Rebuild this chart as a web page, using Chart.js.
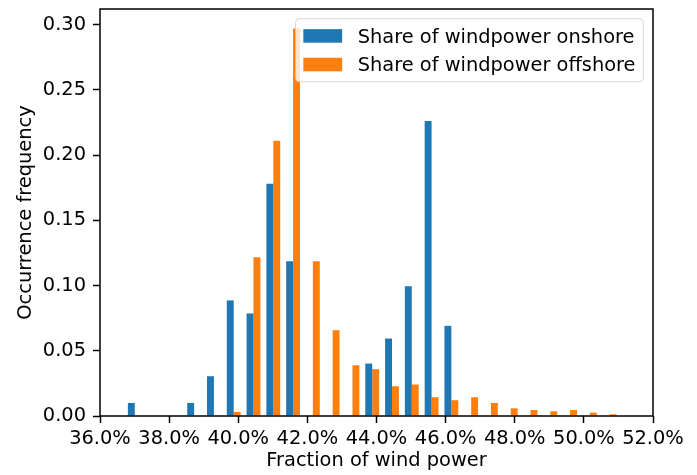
<!DOCTYPE html>
<html>
<head>
<meta charset="utf-8">
<style>
  html, body { margin: 0; padding: 0; background: #fff; }
  #wrap { width: 697px; height: 475px; }
</style>
<script src="https://cdn.jsdelivr.net/npm/chart.js@4.4.1/dist/chart.umd.min.js"></script>
</head>
<body>
<div id="wrap"><canvas id="chart" width="697" height="475"></canvas></div>
<script>
// Histogram bin centres (fraction of wind power, %)
const binCenters = [37.006, 37.579, 38.151, 38.724, 39.296, 39.869, 40.441, 41.014, 41.586,
                    42.159, 42.731, 43.304, 43.876, 44.449, 45.021, 45.594, 46.166, 46.739,
                    47.311, 47.884, 48.456, 49.029, 49.601, 50.174, 50.746];

// Occurrence frequency per bin
const onshore = [0.0100, 0, 0, 0.0100, 0.0305, 0.0886, 0.0786, 0.1780, 0.1186, 0, 0, 0,
                 0.0402, 0.0594, 0.0994, 0.2261, 0.0691, 0, 0, 0, 0, 0, 0, 0, 0];
const offshore = [0, 0, 0, 0, 0, 0.0031, 0.1217, 0.2110, 0.2970, 0.1186, 0.0658, 0.0389,
                  0.0359, 0.0228, 0.0241, 0.0144, 0.0121, 0.0144, 0.0100, 0.0059, 0.0046,
                  0.0036, 0.0046, 0.0026, 0.0013];

const seriesNames = ['Share of windpower onshore', 'Share of windpower offshore'];
const seriesColors = ['#1f77b4', '#ff7f0e'];

// Axis ticks
const xTickValues = [36, 38, 40, 42, 44, 46, 48, 50, 52];
const yTickValues = [0, 0.05, 0.10, 0.15, 0.20, 0.25, 0.30];

const FS = 19.4;
const FONT_FAMILY = '"DejaVu Sans", sans-serif';
const font = { family: FONT_FAMILY, size: FS, lineHeight: 1.2 };

// Frame on all four sides plus an in-axes legend drawn over the bars
const frameAndLegend = {
  id: 'frameAndLegend',
  afterDatasetsDraw(chart) {
    const { ctx, chartArea: a } = chart;
    ctx.save();

    ctx.strokeStyle = '#000';
    ctx.lineWidth = 1.5;
    ctx.strokeRect(a.left, a.top, a.right - a.left, a.bottom - a.top);

    ctx.font = `${FS}px ${FONT_FAMILY}`;
    const textW = Math.max(...seriesNames.map(t => ctx.measureText(t).width));
    const pad = 0.4 * FS, handleL = 2 * FS, handleGap = 0.8 * FS;
    const rowH = 0.975 * FS, rowGap = 0.5 * FS;
    const boxW = pad + handleL + handleGap + textW + pad;
    const boxH = pad * 2 + rowH * 2 + rowGap;
    const boxRight = a.right - 0.5 * FS;
    const boxTop = a.top + 0.5 * FS;
    const boxLeft = boxRight - boxW;

    ctx.beginPath();
    ctx.roundRect(boxLeft, boxTop, boxW, boxH, 0.2 * FS);
    ctx.fillStyle = 'rgba(255,255,255,0.8)';
    ctx.fill();
    ctx.lineWidth = 1;
    ctx.strokeStyle = 'rgba(204,204,204,0.8)';
    ctx.stroke();

    seriesNames.forEach((name, i) => {
      const cy = boxTop + pad + rowH / 2 + i * (rowH + rowGap);
      ctx.fillStyle = seriesColors[i];
      ctx.fillRect(boxLeft + pad, cy - 0.35 * FS, handleL, 0.7 * FS);
      ctx.fillStyle = '#000';
      ctx.textAlign = 'left';
      ctx.textBaseline = 'alphabetic';
      ctx.fillText(name, boxLeft + pad + handleL + handleGap, cy + 0.35 * FS);
    });
    ctx.restore();
  }
};

const toPoints = vals => binCenters.map((x, i) => ({ x, y: vals[i] }));

new Chart(document.getElementById('chart'), {
  type: 'bar',
  data: {
    datasets: [
      { label: seriesNames[0], data: toPoints(onshore), backgroundColor: seriesColors[0],
        borderWidth: 0, categoryPercentage: 0.7, barPercentage: 1.0 },
      { label: seriesNames[1], data: toPoints(offshore), backgroundColor: seriesColors[1],
        borderWidth: 0, categoryPercentage: 0.7, barPercentage: 1.0 }
    ]
  },
  options: {
    responsive: false,
    devicePixelRatio: 1,
    animation: false,
    layout: { padding: { top: 9, right: 44, left: 0, bottom: 0 } },
    plugins: { legend: { display: false }, tooltip: { enabled: false } },
    scales: {
      x: {
        type: 'linear',
        min: 36,
        max: 52,
        offset: false,
        afterFit(s) { s.height = 59; s.paddingLeft = 0; s.paddingRight = 0; },
        afterBuildTicks(s) { s.ticks = xTickValues.map(v => ({ value: v })); },
        grid: { offset: false, drawOnChartArea: false, drawTicks: true,
                tickLength: 7, tickWidth: 1.5, tickColor: '#000' },
        border: { display: false },
        ticks: { font, color: '#000', padding: 4, maxRotation: 0, autoSkip: false,
                 callback: v => v.toFixed(1) + '%' },
        title: { display: true, text: 'Fraction of wind power', font, color: '#000',
                 padding: { top: 0, bottom: 2 } }
      },
      y: {
        min: 0,
        max: 0.312,
        afterFit(s) { s.width = 100; s.paddingTop = 0; s.paddingBottom = 0; },
        afterBuildTicks(s) { s.ticks = yTickValues.map(v => ({ value: v })); },
        grid: { drawOnChartArea: false, drawTicks: true,
                tickLength: 7, tickWidth: 1.5, tickColor: '#000' },
        border: { display: false },
        ticks: { font, color: '#000', padding: 7, callback: v => v.toFixed(2) },
        title: { display: true, text: 'Occurrence frequency', font, color: '#000',
                 padding: { top: 14, bottom: 0 } }
      }
    }
  },
  plugins: [frameAndLegend]
});
</script>
</body>
</html>
